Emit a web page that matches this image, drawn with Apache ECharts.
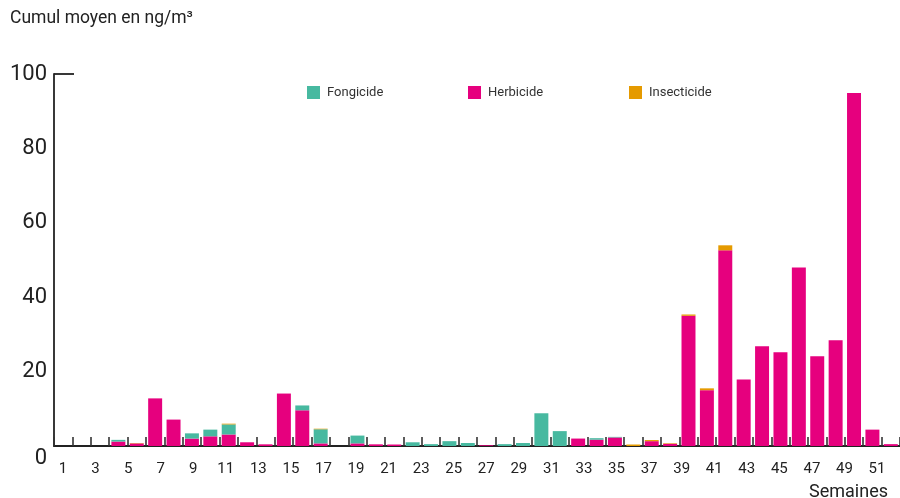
<!DOCTYPE html>
<html>
<head>
<meta charset="utf-8">
<script src="https://cdn.jsdelivr.net/npm/echarts@6/dist/echarts.min.js"></script>
<style>
  html, body { margin: 0; padding: 0; background: #ffffff; }
  #chart { width: 900px; height: 498px; }
</style>
</head>
<body>
<div id="chart"></div>
<script>
// Bar slots as drawn (46 visible columns, last one cut at the right edge)
const barSlots = Array.from({length: 46}, (_, i) => String(i + 1));
// Week labels shown under the axis (1..52, every other one displayed)
const weekLabels = Array.from({length: 52}, (_, i) => String(i + 1));

const herbicide = [
  0, 0, 0, 1.2, 0.7, 12.8, 7.1, 2.0, 2.6, 3.1,
  1.0, 0.45, 14.1, 9.6, 0.7, 0, 0.7, 0.45, 0.4, 0,
  0, 0, 0, 0.2, 0, 0, 0, 0, 2.0, 1.7,
  2.3, 0, 1.3, 0.6, 35.0, 15.0, 52.6, 17.9, 26.8, 25.2,
  48.0, 24.1, 28.4, 94.9, 4.4, 0.5
];
const fongicide = [
  0, 0, 0, 0.45, 0, 0, 0, 1.4, 1.8, 2.7,
  0, 0, 0, 1.3, 3.8, 0, 2.1, 0, 0, 1.0,
  0.5, 1.3, 0.8, 0, 0.5, 0.8, 8.8, 4.0, 0, 0.4,
  0.15, 0, 0, 0, 0, 0, 0, 0, 0, 0,
  0, 0, 0, 0, 0, 0
];
const insecticide = [
  0, 0, 0, 0, 0.1, 0, 0, 0, 0, 0.2,
  0, 0, 0, 0, 0.15, 0, 0, 0, 0, 0,
  0, 0, 0, 0, 0, 0, 0, 0, 0, 0,
  0, 0.4, 0.3, 0.15, 0.35, 0.5, 1.35, 0, 0, 0,
  0, 0, 0, 0, 0, 0
];
const seriesNames = ['Fongicide', 'Herbicide', 'Insecticide'];
const yTicks = { min: 0, max: 100, interval: 20 };

const FONT = 'Roboto, "DejaVu Sans", sans-serif';
const INK = '#222222';
const COLORS = { fong: '#47b9a0', herb: '#e6007e', insect: '#e59a00' };

const chart = echarts.init(document.getElementById('chart'), null, { renderer: 'canvas' });

const legendLefts = [307, 468, 629];
const legends = seriesNames.map((name, i) => ({
  data: [name],
  left: legendLefts[i], top: 86,
  padding: 0,
  itemWidth: 13, itemHeight: 13, itemGap: 0,
  icon: 'rect',
  selectedMode: false,
  textStyle: { fontFamily: FONT, fontSize: 13, color: '#333333', padding: [0, 0, 0, 2] }
}));

const option = {
  animation: false,
  backgroundColor: '#ffffff',
  textStyle: { fontFamily: FONT },
  title: [
    {
      text: 'Cumul moyen en ng/m³',
      left: 5, top: 5,
      textStyle: { fontFamily: FONT, fontSize: 17.5, fontWeight: 'normal', color: INK }
    },
    {
      text: 'Semaines',
      right: 7, top: 478,
      textStyle: { fontFamily: FONT, fontSize: 18, fontWeight: 'normal', color: INK }
    }
  ],
  legend: legends,
  grid: [
    { left: 54, top: 74, right: -3, bottom: 52, containLabel: false },
    { left: 63, top: 74, right: 6.7, bottom: 52, containLabel: false }
  ],
  xAxis: [
    {
      type: 'category', gridIndex: 0, data: barSlots, boundaryGap: true,
      axisLine: { show: true, lineStyle: { color: INK, width: 1.8 } },
      axisTick: { show: true, inside: true, length: 9, interval: 0, lineStyle: { color: '#333333', width: 1.6 } },
      axisLabel: { show: false },
      splitLine: { show: false }
    },
    {
      type: 'category', gridIndex: 1, data: weekLabels, boundaryGap: false,
      axisLine: { show: false }, axisTick: { show: false },
      axisLabel: { show: true, interval: 1, margin: 16, fontFamily: FONT, fontSize: 15, color: INK },
      splitLine: { show: false }
    }
  ],
  yAxis: [
    {
      type: 'value', gridIndex: 0, min: yTicks.min, max: yTicks.max, interval: yTicks.interval,
      axisLine: { show: true, lineStyle: { color: INK, width: 1.8 } },
      axisTick: { show: false },
      splitLine: { show: false },
      axisLabel: {
        margin: 7, fontFamily: FONT, fontSize: 22, color: INK,
        formatter: v => v === 0 ? '{z|0}' : String(v),
        rich: { z: { fontFamily: FONT, fontSize: 22, color: INK, padding: [24, 0, 0, 0] } }
      }
    },
    {
      type: 'value', gridIndex: 0, min: yTicks.min, max: yTicks.max, interval: 100, position: 'left',
      axisLine: { show: false },
      axisTick: { show: true, inside: true, length: 20, lineStyle: { color: INK, width: 1.8 } },
      axisLabel: { show: false },
      splitLine: { show: false }
    },
    {
      type: 'value', gridIndex: 1, min: 0, max: 100, show: false
    }
  ],
  series: [
    {
      name: 'Herbicide', type: 'bar', stack: 'total', xAxisIndex: 0, yAxisIndex: 0,
      data: herbicide, barWidth: '76%', itemStyle: { color: COLORS.herb }
    },
    {
      name: 'Fongicide', type: 'bar', stack: 'total', xAxisIndex: 0, yAxisIndex: 0,
      data: fongicide, barWidth: '76%', itemStyle: { color: COLORS.fong }
    },
    {
      name: 'Insecticide', type: 'bar', stack: 'total', xAxisIndex: 0, yAxisIndex: 0,
      data: insecticide, barWidth: '76%', itemStyle: { color: COLORS.insect }
    }
  ]
};

chart.setOption(option);
</script>
</body>
</html>
